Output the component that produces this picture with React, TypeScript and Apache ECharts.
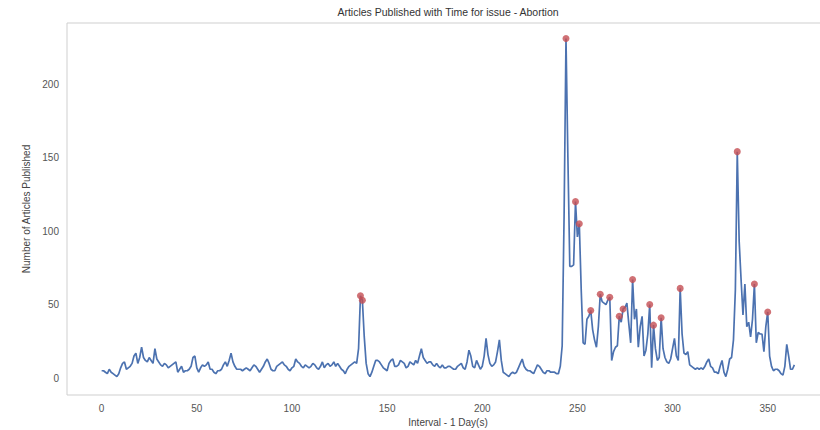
import React, { useEffect, useRef } from "react";
import * as echarts from "echarts";

const TITLE = "Articles Published with Time for issue - Abortion";
const X_LABEL = "Interval - 1 Day(s)";
const Y_LABEL = "Number of Articles Published";

const X_TICKS = [0, 50, 100, 150, 200, 250, 300, 350];
const Y_TICKS = [0, 50, 100, 150, 200];

// articles published per day, day index 0..364
const COUNTS = [
  5, 5, 4, 3, 6, 4, 3, 2, 1, 3,
  7, 10, 11, 6, 7, 8, 10, 15, 17, 10,
  14, 21, 14, 12, 11, 14, 12, 10, 20, 13,
  11, 9, 8, 10, 9, 7, 8, 9, 10, 11,
  4, 6, 8, 4, 5, 5, 6, 8, 14, 15,
  7, 4, 7, 9, 8, 9, 11, 6, 6, 4,
  3, 5, 5, 6, 9, 11, 8, 12, 17, 11,
  8, 6, 6, 6, 5, 6, 7, 6, 5, 7,
  9, 8, 6, 4, 6, 8, 11, 13, 10, 6,
  5, 5, 8, 9, 10, 11, 9, 8, 6, 5,
  7, 8, 13, 11, 10, 8, 7, 9, 8, 7,
  8, 10, 9, 7, 6, 8, 11, 7, 9, 10,
  8, 9, 11, 8, 10, 8, 6, 5, 3, 6,
  8, 9, 10, 11, 10, 20, 56, 53, 28, 10,
  3, 1, 4, 8, 12, 12, 11, 9, 7, 6,
  5, 10, 12, 13, 8, 8, 9, 12, 11, 10,
  7, 8, 11, 10, 9, 12, 10, 15, 20, 14,
  12, 10, 11, 11, 9, 8, 10, 8, 7, 9,
  7, 7, 8, 8, 7, 6, 6, 8, 9, 10,
  7, 6, 11, 19, 15, 8, 7, 12, 9, 6,
  8, 15, 27, 16, 10, 8, 9, 11, 18, 26,
  12, 4, 3, 2, 1, 3, 4, 3, 4, 7,
  10, 13, 8, 6, 5, 5, 4, 3, 6, 9,
  8, 6, 4, 3, 5, 5, 4, 4, 4, 3,
  3, 8, 22, 110, 231, 150, 76, 76, 77, 120,
  96, 105, 60, 24, 23, 40, 42, 46, 33, 26,
  21, 35, 57, 52, 51, 50, 53, 55, 12, 18,
  21, 22, 42, 38, 47, 48, 51, 37, 24, 67,
  40, 47, 21, 35, 42, 15, 19, 30, 50, 7,
  36, 20, 12, 14, 41, 20, 14, 11, 10, 13,
  20, 27, 15, 12, 61, 30, 17, 16, 18, 9,
  8, 7, 6, 7, 6, 7, 6, 8, 11, 13,
  8, 7, 4, 4, 3, 8, 12, 4, 1, 6,
  13, 14, 26, 60, 154, 93, 67, 43, 64, 35,
  38, 28, 40, 64, 24, 31, 30, 30, 18, 35,
  45, 15, 8, 5, 6, 6, 5, 3, 2, 8,
  23, 15, 6, 6, 9,
];

// days marked as peaks (red dots)
const PEAK_DAYS = [136, 137, 244, 249, 251, 257, 262, 267, 272, 274, 279, 288, 290, 294, 304, 334, 343, 350];

export default function App() {
  const ref = useRef<HTMLDivElement>(null);

  useEffect(() => {
    if (!ref.current) return;
    const chart = echarts.init(ref.current, null, { renderer: "svg" });
    const lineData = COUNTS.map((v, i) => [i, v]);
    const peakData = PEAK_DAYS.map((d) => [d, COUNTS[d]]);
    const font = "'Liberation Sans', Arial, sans-serif";

    chart.setOption({
      animation: false,
      backgroundColor: "#ffffff",
      grid: {
        left: 67,
        top: 23,
        width: 762,
        height: 372,
        show: true,
        borderColor: "#cfcfcf",
        borderWidth: 1,
        backgroundColor: "transparent",
        outerBoundsMode: "none",
      },
      graphic: [
        {
          type: "text",
          x: 448,
          y: 12,
          style: {
            text: TITLE,
            fill: "#333333",
            font: `10.5px ${font}`,
            textAlign: "center",
            textVerticalAlign: "middle",
          },
        },
      ],
      xAxis: {
        type: "value",
        min: -18.2,
        max: 382.2,
        name: X_LABEL,
        nameLocation: "middle",
        nameGap: 22,
        nameTextStyle: { color: "#444444", fontSize: 10, fontFamily: font },
        axisLine: { show: false },
        axisTick: { show: false },
        splitLine: { show: false },
        axisLabel: {
          customValues: X_TICKS,
          color: "#555555",
          fontSize: 10,
          fontFamily: font,
          margin: 8,
        },
      },
      yAxis: {
        type: "value",
        min: -11.5,
        max: 241.5,
        name: Y_LABEL,
        nameLocation: "middle",
        nameGap: 29,
        nameTextStyle: { color: "#444444", fontSize: 10, fontFamily: font },
        axisLine: { show: false },
        axisTick: { show: false },
        splitLine: { show: false },
        axisLabel: {
          customValues: Y_TICKS,
          color: "#555555",
          fontSize: 10,
          fontFamily: font,
          margin: 8,
        },
      },
      series: [
        {
          type: "line",
          data: lineData,
          showSymbol: false,
          symbol: "none",
          lineStyle: { color: "#4c72b0", width: 1.7 },
          z: 2,
        },
        {
          type: "scatter",
          data: peakData,
          symbolSize: 7,
          itemStyle: { color: "#c44e52" },
          z: 3,
        },
      ],
    });

    return () => chart.dispose();
  }, []);

  return (
    <div
      ref={ref}
      style={{ position: "fixed", left: 0, top: 0, width: 820, height: 430 }}
    />
  );
}
